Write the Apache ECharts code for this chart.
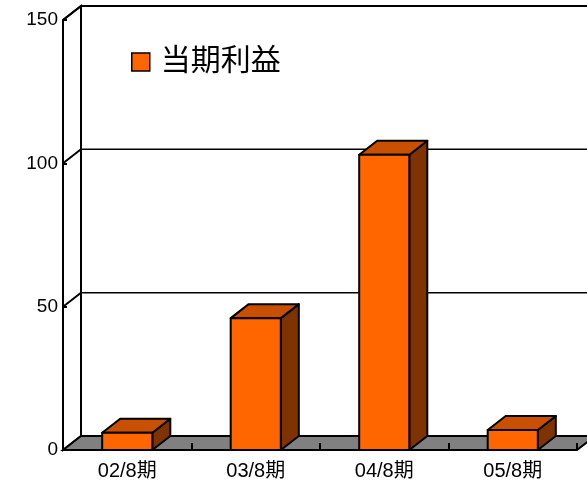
<!DOCTYPE html>
<html>
<head>
<meta charset="utf-8">
<style>
  html, body { margin: 0; padding: 0; background: #fff; }
  #chart { width: 587px; height: 485px; }
</style>
<script src="https://cdn.jsdelivr.net/npm/echarts@6/dist/echarts.min.js"></script>
</head>
<body>
<div id="chart"></div>
<script>
// Periods and net income per period
const categories = ['02/8期', '03/8期', '04/8期', '05/8期'];
const profit = [6, 46, 103, 7];
const yTicks = [0, 50, 100, 150];
const seriesName = '当期利益';

// Pseudo-3D depth offset for walls, floor and bar boxes
const DX = 18, DY = -14;
const LW = 2;
const FONT = '"Liberation Sans", Arial, "Noto Sans CJK JP", sans-serif';
const FRONT = '#FF6600', TOP = '#C85000', SIDE = '#7F3300';

const chart = echarts.init(document.getElementById('chart'), null, { renderer: 'canvas' });

function boxWalls(params, api) {
  const cs = params.coordSys;
  const x0 = cs.x, x1 = cs.x + cs.width;
  const yTop = api.coord([0, 150])[1];
  const yBase = api.coord([0, 0])[1];
  return {
    type: 'group',
    children: [
      { // back wall
        type: 'polygon',
        shape: { points: [[x0 + DX, yTop + DY], [x1 + DX, yTop + DY], [x1 + DX, yBase + DY], [x0 + DX, yBase + DY]] },
        style: { fill: '#fff', stroke: '#000', lineWidth: LW }
      },
      { // left side wall
        type: 'polygon',
        shape: { points: [[x0, yTop], [x0 + DX, yTop + DY], [x0 + DX, yBase + DY], [x0, yBase]] },
        style: { fill: '#fff', stroke: '#000', lineWidth: LW }
      },
      { // floor
        type: 'polygon',
        shape: { points: [[x0, yBase], [x0 + DX, yBase + DY], [x1 + DX, yBase + DY], [x1, yBase]] },
        style: { fill: '#808080', stroke: '#000', lineWidth: LW }
      }
    ]
  };
}

function gridLine(params, api) {
  const cs = params.coordSys;
  const x0 = cs.x, x1 = cs.x + cs.width;
  const y = api.coord([0, api.value(0)])[1];
  return {
    type: 'group',
    children: [
      { type: 'line', shape: { x1: x0, y1: y, x2: x0 + DX, y2: y + DY }, style: { stroke: '#000', lineWidth: LW } },
      { type: 'line', shape: { x1: x0 + DX, y1: y + DY, x2: x1 + DX, y2: y + DY }, style: { stroke: '#000', lineWidth: 1.5 } }
    ]
  };
}

function barBox(params, api) {
  const top = api.coord([api.value(0), api.value(1)]);
  const base = api.coord([api.value(0), 0]);
  const w = api.size([1, 0])[0] * 0.39;
  const x = top[0] - w / 2, y = top[1], yb = base[1];
  const edge = { stroke: '#000', lineWidth: LW, lineJoin: 'round' };
  return {
    type: 'group',
    children: [
      { type: 'polygon', shape: { points: [[x + w, y], [x + w + DX, y + DY], [x + w + DX, yb + DY], [x + w, yb]] },
        style: Object.assign({ fill: SIDE }, edge) },
      { type: 'polygon', shape: { points: [[x, y], [x + DX, y + DY], [x + w + DX, y + DY], [x + w, y]] },
        style: Object.assign({ fill: TOP }, edge) },
      { type: 'rect', shape: { x: x, y: y, width: w, height: yb - y },
        style: Object.assign({ fill: FRONT }, edge) }
    ]
  };
}

chart.setOption({
  animation: false,
  backgroundColor: '#fff',
  textStyle: { fontFamily: FONT },
  grid: { left: 63, right: 10, top: 20, bottom: 35 },
  legend: {
    left: 131, top: 47, padding: 0,
    itemWidth: 18, itemHeight: 18, itemGap: 10,
    textStyle: { fontSize: 30, color: '#000', fontFamily: FONT, padding: [0, 0, 0, 6] },
    data: [{ name: seriesName, icon: 'rect', itemStyle: { color: FRONT, borderColor: '#000', borderWidth: 1.5 } }]
  },
  xAxis: {
    type: 'category',
    data: categories,
    z: 10,
    axisLine: { show: false },
    axisTick: { show: true, inside: true, length: 7, lineStyle: { color: '#000', width: LW } },
    axisLabel: { fontSize: 20, color: '#000', margin: 11, fontFamily: FONT },
    splitLine: { show: false }
  },
  yAxis: {
    type: 'value',
    min: 0, max: 150, interval: 50,
    z: 10,
    axisLine: { show: false },
    axisTick: { show: true, inside: true, length: 4, lineStyle: { color: '#000', width: LW } },
    axisLabel: { fontSize: 19, color: '#000', margin: 5, fontFamily: FONT },
    splitLine: { show: false }
  },
  series: [
    {
      type: 'custom', name: 'walls', z: 1, silent: true, clip: false,
      renderItem: boxWalls,
      data: [[0, 0]],
      encode: { x: 0, y: 1 }
    },
    {
      type: 'custom', name: 'grid', z: 2, silent: true, clip: false,
      renderItem: gridLine,
      data: yTicks.filter(v => v > 0).map(v => [v]),
      encode: { y: 0 }
    },
    {
      type: 'custom', name: seriesName, z: 3, clip: false,
      renderItem: barBox,
      itemStyle: { color: FRONT, borderColor: '#000', borderWidth: 1.5 },
      data: profit.map((v, i) => [i, v]),
      encode: { x: 0, y: 1 }
    }
  ]
});
</script>
</body>
</html>
